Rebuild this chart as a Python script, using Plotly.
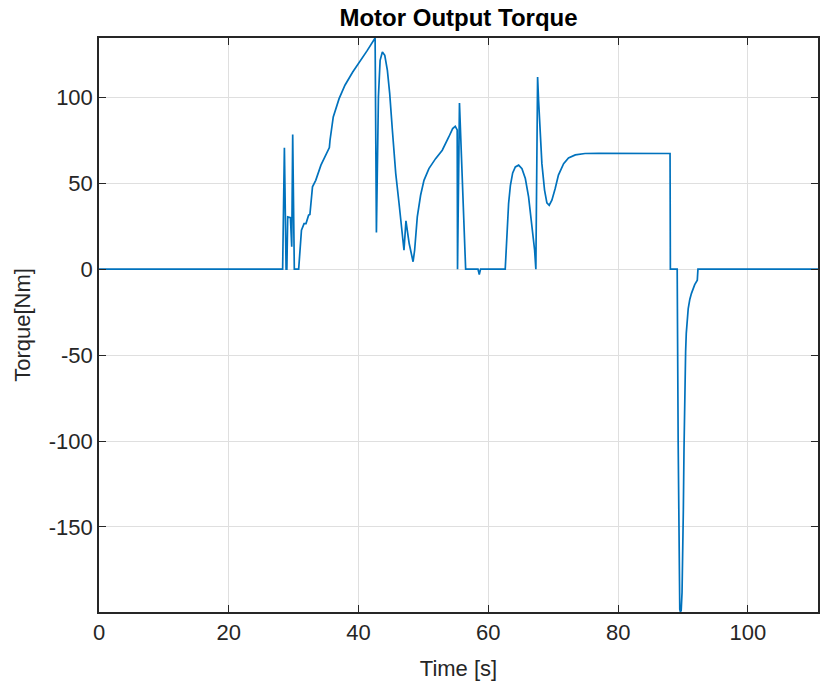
import plotly.graph_objects as go

time_s = [0, 28.3, 28.57, 28.83, 28.95, 29.08, 29.5, 29.7, 29.85, 30.1, 30.77,
          31.0, 31.2, 31.6, 31.9, 32.3, 32.5, 32.9, 33.4, 34.2, 35.5, 35.6,
          36.1, 37.0, 37.9, 39.1, 40.0, 41.3, 42.55, 42.75, 43.06, 43.32, 43.67,
          44.04, 44.44, 44.8, 45.21, 45.73, 46.24, 46.75, 47.0, 47.3, 47.8,
          48.4, 48.64, 49.05, 49.56, 50.08, 50.84, 51.87, 52.9, 53.9, 54.5,
          54.9, 55.2, 55.25, 55.55, 56.5, 58.4, 58.6, 58.8, 62.6,
          62.87, 63.12, 63.4, 63.75, 64.16, 64.67, 65.18, 65.7, 66.2, 66.7,
          67.13, 67.32, 67.59, 67.74, 68.0, 68.25, 68.66, 69.02, 69.38, 69.79,
          70.3, 70.8, 71.6, 72.35, 73.4, 74.9, 77.0, 80.0, 88.0, 88.05, 89.1,
          89.25, 89.4, 89.5, 89.6, 89.72, 89.85, 89.95, 90.05, 90.15, 90.22,
          90.3, 90.4, 90.5, 90.65, 90.8, 91.05, 91.3, 91.8, 92.2, 92.3, 110.8]
torque_nm = [0, 0, 70.7, 0, 0, 30.4, 30, 13, 78.3, 0, 0,
             14.9, 22.7, 26.5, 26.5, 31.4, 31.8, 47.9, 51.7, 60.5, 70.7, 75,
             88.6, 99.2, 107, 114.7, 119.6, 127, 134.5, 21.3, 100.2, 121.5, 126.4,
             124.4, 115.7, 102.1, 80.8, 55.6, 38.2, 20.7, 11, 28.1, 14.9,
             4.3, 11, 30.4, 43, 51.7, 58.5, 64.3, 69.2, 76.9, 81.8,
             83.1, 81, 0, 96.7, 0, 0, -3.1, 0, 0,
             20.7, 38.2, 48.8, 56, 59.5, 60.5, 58.5, 52.7, 42, 26.5,
             11, 0, 111.8, 98.3, 76.9, 61.4, 46, 38.6, 37.2, 40.1,
             46.9, 54.7, 61.4, 64.7, 66.5, 67.3, 67.4, 67.4, 67.3, 0, 0,
             -100, -190, -198, -199.5, -198.5, -188, -170, -140, -105, -82,
             -66.5, -48, -37.4, -28, -22.9, -17.5, -14.1, -9, -6.4, 0, 0]

x_ticks = [0, 20, 40, 60, 80, 100]
y_ticks = [-150, -100, -50, 0, 50, 100]
y_tick_text = ["-150", "-100", "-50", "0", "50", "100"]

fig = go.Figure()
fig.add_trace(go.Scatter(x=time_s, y=torque_nm, mode="lines",
                         line=dict(color="#0072BD", width=1.7),
                         showlegend=False))

font_family = "Arial, Liberation Sans, Helvetica, sans-serif"
axis_common = dict(
    showline=True, linecolor="#262626", linewidth=1.5, mirror="allticks",
    ticks="inside", ticklen=7, tickwidth=1.2, tickcolor="#262626",
    showgrid=True, gridcolor="#dfdfdf", gridwidth=1, zeroline=False,
    tickfont=dict(family=font_family, size=22, color="#262626"),
)

fig.update_layout(
    width=820, height=686,
    margin=dict(l=99, r=0, t=38, b=74),
    paper_bgcolor="white", plot_bgcolor="white",
    title=dict(text="<b>Motor Output Torque</b>", x=0.5, xref="paper",
               y=1 - 18 / 686, yref="container", yanchor="middle",
               font=dict(family=font_family, size=24, color="black")),
    xaxis=dict(range=[0, 110.8], tickvals=x_ticks,
               title=dict(text="Time [s]", standoff=16,
                          font=dict(family=font_family, size=22, color="#262626")),
               **axis_common),
    yaxis=dict(range=[-199.5, 134.5], tickvals=y_ticks, ticktext=y_tick_text,
               title=dict(text="Torque[Nm]", standoff=12,
                          font=dict(family=font_family, size=22, color="#262626")),
               **axis_common),
)

fig.write_html("out.html")
